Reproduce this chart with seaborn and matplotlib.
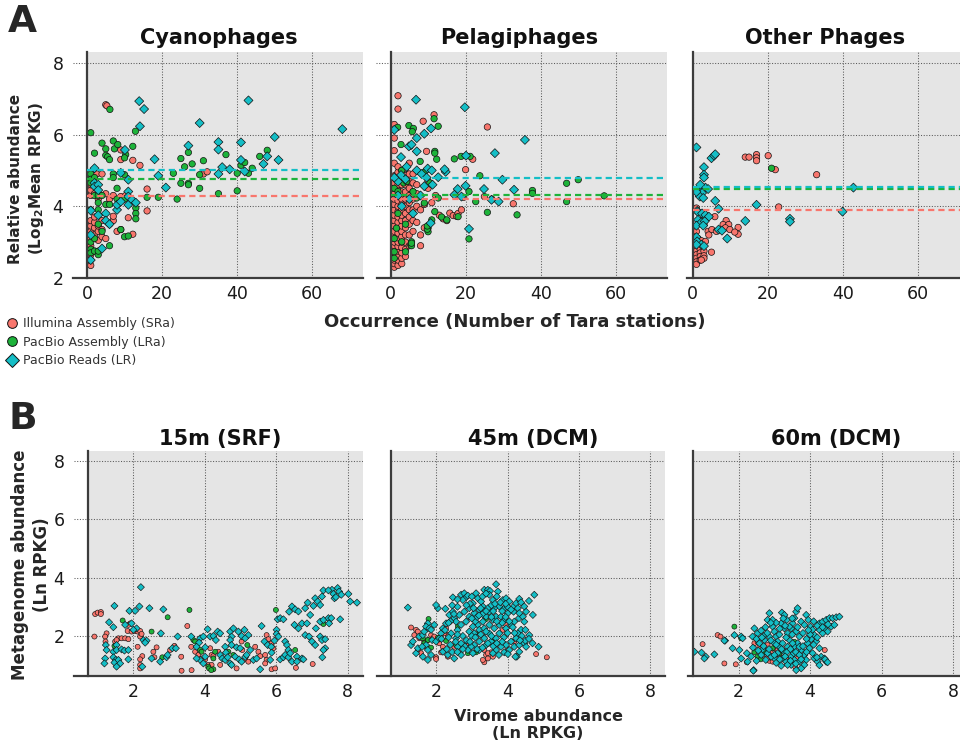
import matplotlib
matplotlib.use("Agg")
import matplotlib.pyplot as plt
from matplotlib.lines import Line2D
import pandas as pd
import seaborn as sns

sns.set_theme(style="white")
plt.rcParams["font.family"] = ["DejaVu Sans"]
plt.rcParams["mathtext.fontset"] = "dejavusans"

# ---------------------------------------------------------------- categories
SOURCES = ["SRa", "LRa", "LR"]
SOURCE_LABELS = ["Illumina Assembly (SRa)", "PacBio Assembly (LRa)", "PacBio Reads (LR)"]
PALETTE = {"SRa": "#F8766D", "LRa": "#1DB33A", "LR": "#14BEC6"}
MARKERS = {"SRa": "o", "LRa": "o", "LR": "D"}

occurrence_titles = ["Cyanophages", "Pelagiphages", "Other Phages"]
depth_titles = ["15m (SRF)", "45m (DCM)", "60m (DCM)"]

# ------------------------------------------- A: occurrence vs log2 mean RPKG
cyano_sra = [(1, 2.35), (1, 2.5), (1, 2.65), (1, 2.9), (1, 3.1), (1, 3.3), (1, 3.45), (1, 3.6),
             (1, 4.3), (1, 4.45), (1, 4.6), (2, 2.75), (2, 3.2), (2, 3.4), (2, 3.55), (2, 3.7),
             (2, 4.35), (2.6, 4.9), (3, 3.05), (3, 3.3), (3, 3.45), (3, 4.2), (3, 4.35), (4, 3.15),
             (4, 3.35), (4, 4.9), (4, 3.6), (5, 6.83), (5.3, 6.8), (5, 3.1), (5, 4.35), (6, 3.5),
             (6, 4.2), (7, 3.6), (7, 3.72), (7, 4.3), (8, 3.3), (9, 5.57), (9, 5.3), (9, 4.27),
             (9, 3.35), (10.3, 4.3), (11, 3.68), (12.2, 5.28), (12.2, 3.22), (14.1, 5.14),
             (16, 4.48), (16, 3.87), (31, 4.9), (32, 4.96)]
cyano_lra = [(1, 6.05), (1, 4.9), (1, 4.75), (1, 4.65), (1, 3.0), (1, 2.8), (1, 2.7), (1, 3.9),
             (2, 5.48), (2, 4.8), (2, 4.3), (2, 3.1), (2, 2.75), (3, 4.3), (3, 4.1), (3, 3.9),
             (3, 3.5), (3, 2.65), (3, 2.75), (4, 5.76), (4, 4.3), (4, 3.3), (5, 5.6), (5, 5.42),
             (5, 4.05), (5.5, 5.38), (6, 5.3), (6.1, 6.7), (6, 4.05), (6, 2.9), (7, 5.82), (7.3, 5.6),
             (7, 4.9), (7, 4.8), (8.2, 5.72), (8, 4.5), (8, 4.2), (9, 3.35), (10.3, 5.44),
             (10, 5.35), (10, 4.88), (10, 4.2), (10, 3.15), (11, 3.17), (12.2, 5.67), (12.9, 6.09),
             (13, 3.95), (13, 3.8), (13, 3.65), (16, 4.25), (19, 4.25), (23, 4.92), (24, 4.2),
             (25, 5.33), (25, 4.64), (26, 5.1), (27, 5.5), (27, 4.64), (27, 4.6), (28, 5.18),
             (30, 4.88), (30, 4.5), (31, 5.27), (35, 4.35), (37, 5.44), (40, 4.43), (40, 4.92),
             (41, 5.14), (42, 5.22), (43, 4.92), (44, 5.06), (46, 5.39), (48, 5.56)]
cyano_lr = [(1, 3.88), (1, 2.5), (1, 3.2), (2, 5.06), (2, 4.65), (2, 4.55), (3, 4.6), (3, 4.45),
            (3, 3.75), (4, 2.82), (5, 3.8), (5, 3.6), (6, 3.5), (8, 3.9), (8, 4.04), (9, 4.93),
            (9, 4.13), (10.1, 5.57), (11, 4.74), (11, 4.41), (11, 4.27), (11, 4.04), (12, 4.18),
            (13, 4.1), (13.9, 6.93), (14.1, 6.23), (15.2, 6.71), (18, 5.31), (19, 4.85), (21, 4.52),
            (27, 5.69), (30, 6.32), (35, 5.79), (35, 5.58), (35, 4.9), (36, 5.09), (38, 5.03),
            (41, 5.78), (41, 5.29), (42, 4.97), (43, 6.95), (47, 5.18), (48, 5.39), (50, 5.93),
            (51, 5.29), (68, 6.15)]
cyano_means = [4.29, 4.77, 5.02]

pelagi_sra = ([(1, v) for v in [2.3, 2.4, 2.5, 2.6, 2.7, 2.8, 2.9, 3.0, 3.1, 3.2, 3.3, 3.45, 3.6,
                                3.75, 3.9, 4.05, 4.2, 4.35, 4.5, 4.65, 4.85, 5.2, 5.55, 5.9,
                                6.15, 6.28]]
              + [(2, v) for v in [2.35, 2.5, 2.62, 2.75, 2.88, 3.0, 3.12, 3.25, 3.4, 3.55, 3.7,
                                  3.85, 4.0, 4.15, 4.3, 4.45, 4.6, 4.75, 4.95, 5.1, 6.71, 7.08]]
              + [(3, v) for v in [2.4, 2.55, 2.7, 2.85, 3.0, 3.15, 3.3, 3.45, 3.6, 3.75, 3.9,
                                  4.05, 4.2, 4.4, 4.6, 4.8, 5.0]]
              + [(4, v) for v in [2.6, 2.8, 3.0, 3.2, 3.4, 3.6, 3.8, 4.0, 4.2, 4.4, 4.6, 4.85,
                                  5.05]]
              + [(5, v) for v in [2.9, 3.2, 3.5, 3.7, 3.9, 4.1, 4.3, 4.5, 4.7, 4.9, 5.2]]
              + [(6, v) for v in [3.3, 3.6, 3.9, 4.2, 4.4, 4.65, 4.9]]
              + [(7, 3.55), (7, 4.0), (7, 4.35), (7, 4.6), (8, 2.9), (8, 3.9), (8, 3.2),
                 (9, 3.4), (9, 4.05), (9.6, 5.53), (8.7, 6.37), (10, 4.5), (10, 4.7), (11, 4.1),
                 (12, 4.3), (11.6, 6.55), (13, 3.75), (14, 3.65), (15, 3.6), (15.8, 3.81),
                 (16.7, 3.74), (17.6, 3.72), (18, 3.8), (18.9, 3.9), (19.5, 4.25), (20, 5.02),
                 (21.9, 5.31), (25, 4.27), (25.8, 6.21), (27, 4.2), (32.7, 4.07)])
pelagi_lra = [(1, 4.5), (2, 4.41), (3.5, 4.65), (4.3, 4.69), (6, 4.41), (7, 4.23), (9, 4.09),
              (11.8, 3.85), (11, 3.62), (10, 3.39), (10, 3.29), (5.6, 3.01), (5.4, 2.92), (3, 3.01),
              (1.6, 3.39), (1, 3.1), (4, 2.73), (1, 2.73), (1, 2.55), (11, 4.6), (10.5, 4.65),
              (12.7, 4.23), (13.6, 3.7), (15, 3.62), (4.9, 6.25), (6.1, 6.17), (5.8, 6.08),
              (1.9, 6.2), (12.7, 6.23), (11.6, 6.44), (2.8, 5.72), (5.2, 5.67), (11.8, 5.53),
              (11.8, 5.48), (7.9, 5.25), (12.3, 5.31), (17, 5.32), (18.8, 5.39), (21.2, 5.39),
              (9, 4.95), (23.8, 4.85), (46.9, 4.64), (50, 4.74), (20.9, 4.41), (37.8, 4.44),
              (37.8, 4.36), (22.7, 4.13), (46.9, 4.13), (56.9, 4.29), (25.8, 3.83), (33.7, 3.76),
              (20.9, 3.09), (18, 3.71), (9.8, 3.36), (9.8, 3.45), (5.6, 2.9), (5.6, 2.97),
              (3, 5.0), (2, 3.8), (4, 3.5)]
pelagi_lr = [(6.8, 6.97), (19.8, 6.76), (10.8, 6.17), (1, 6.13), (7, 5.9), (9, 6.02), (4.9, 5.67),
             (5.6, 5.72), (7, 5.53), (2.8, 5.37), (4.3, 5.1), (9.9, 5.05), (11, 5.0), (14.7, 4.96),
             (12.7, 4.81), (2, 4.69), (2.8, 4.87), (7, 5.0), (8.3, 4.9), (9.6, 4.8), (9, 4.56),
             (11.2, 4.6), (35.8, 5.85), (27.8, 5.48), (20.1, 5.41), (29.8, 4.74), (24.9, 4.48),
             (20, 4.57), (26.9, 4.18), (28.8, 4.13), (32.9, 4.46), (20.9, 3.37), (18.9, 4.27),
             (17.9, 4.48), (17, 4.32), (14.4, 5.03), (10.7, 3.53), (2, 4.3), (3, 4.0), (5, 4.2),
             (6, 3.8), (8, 4.3), (4, 4.75), (1, 4.8)]
pelagi_means = [4.21, 4.30, 4.78]

other_sra = [(14, 5.37), (15, 5.37), (17, 5.44), (17, 5.35), (17, 5.27), (20.1, 5.41), (22, 5.02),
             (22.9, 3.98), (33, 4.88), (5.9, 3.71), (8.9, 3.6), (8.1, 3.49), (9.6, 3.49),
             (8.7, 3.4), (9.9, 3.35), (12.1, 3.41), (12.1, 3.22), (11.2, 3.28), (4.1, 3.3),
             (5.1, 3.35), (6.3, 3.3), (4.3, 3.2), (1.4, 3.1), (2.3, 3.04), (3.4, 3.02), (1, 2.85),
             (1, 2.75), (1, 2.65), (1, 2.55), (1, 2.45), (1, 2.38), (2, 2.8), (2, 2.7), (2, 2.6),
             (2, 2.5), (3, 2.75), (3, 2.62), (3, 2.55), (5, 2.72), (2.3, 2.5), (1, 3.95), (2, 3.6),
             (1, 3.3)]
other_lra = [(21, 5.06), (3, 3.5)]
other_lr = [(1, 5.64), (5, 5.34), (5.7, 5.41), (6, 5.45), (3, 5.09), (3, 4.88), (3, 4.8), (2.1, 4.55),
            (3.4, 4.52), (4.1, 4.48), (2.5, 4.37), (1.9, 4.27), (2.8, 4.23), (6, 4.15), (6.9, 3.93),
            (17, 4.04), (25.9, 3.65), (25.9, 3.57), (14, 3.59), (1.2, 3.87), (1.4, 3.84),
            (2.5, 3.8), (3.4, 3.76), (4.3, 3.71), (1.4, 3.62), (2.3, 3.55), (3.2, 3.58), (1, 3.46),
            (2.8, 3.46), (6.9, 3.35), (7.8, 3.32), (9.2, 3.1), (1, 3.14), (1.2, 3.02), (2.3, 2.93),
            (3, 2.89), (1, 2.93), (42.8, 4.52), (39.9, 3.85), (2, 4.6), (1, 4.4)]
other_means = [3.89, 4.47, 4.55]

# --------------------------------- B: virome vs metagenome abundance (ln RPKG)
srf_sra = [(0.93, 2.75), (1.0, 2.8), (1.09, 2.82), (1.09, 2.75), (0.91, 1.98), (1.25, 2.09),
           (1.21, 1.98), (1.22, 1.81), (1.58, 1.92), (1.67, 1.92), (1.77, 1.92), (1.86, 1.89),
           (1.49, 1.81), (1.53, 1.86), (1.91, 2.43), (1.86, 2.38), (1.84, 2.17), (1.95, 2.15),
           (2.05, 2.17), (2.12, 2.15), (2.19, 2.17), (2.19, 1.98), (2.23, 2.07), (2.25, 1.31),
           (2.19, 1.2), (2.19, 1.01), (2.19, 0.89), (2.56, 1.46), (2.59, 1.27), (2.12, 1.63),
           (2.65, 1.61), (3.51, 2.34), (3.62, 1.63), (3.34, 1.29), (3.35, 0.81), (3.15, 1.66),
           (3.03, 1.52), (3.73, 1.46), (3.82, 1.35), (3.91, 1.23), (4.15, 1.58), (4.19, 1.35),
           (4.38, 1.46), (4.01, 1.2), (4.10, 1.01), (4.19, 1.01), (4.24, 1.31), (5.03, 1.81),
           (5.05, 1.52), (5.13, 1.20), (5.22, 1.12), (4.89, 0.89), (3.63, 0.83), (4.43, 1.01),
           (5.41, 1.63), (5.50, 1.46), (5.55, 1.31), (5.73, 2.03), (5.78, 1.89), (5.87, 1.75),
           (5.92, 1.58), (5.69, 1.35), (5.73, 1.18), (5.69, 1.06), (5.87, 0.86), (5.97, 0.89),
           (6.55, 0.91), (7.02, 1.04)]
srf_lra = [(1.70, 2.53), (1.47, 1.66), (2.51, 2.15), (2.96, 2.64), (3.57, 2.89), (2.81, 1.27),
           (3.68, 1.86), (3.73, 1.81), (3.87, 1.52), (3.91, 1.46), (4.24, 1.23), (4.29, 1.46),
           (4.10, 0.95), (4.12, 0.89), (4.24, 0.86), (4.18, 0.83), (4.66, 1.46), (4.80, 1.35),
           (5.19, 1.69), (5.99, 2.89), (6.53, 1.52), (7.32, 2.41)]
srf_lr = [(1.47, 3.03), (2.21, 3.67), (1.89, 2.86), (2.05, 2.86), (2.17, 3.01), (2.45, 2.95),
          (2.84, 2.91), (1.32, 2.47), (1.44, 2.30), (1.77, 2.38), (1.95, 2.43), (2.09, 2.26),
          (2.0, 2.21), (1.23, 1.69), (1.25, 1.52), (1.53, 1.69), (1.44, 1.46), (1.53, 1.52),
          (1.67, 1.54), (1.75, 1.50), (1.86, 1.52), (1.21, 1.23), (1.19, 1.06), (1.44, 1.27),
          (1.51, 1.18), (1.47, 1.09), (1.58, 1.18), (1.63, 1.06), (1.53, 0.95), (1.86, 1.20),
          (2.28, 1.86), (2.37, 1.84), (2.33, 1.77), (2.77, 2.09), (2.51, 1.23), (2.25, 0.95),
          (2.75, 1.12), (2.93, 1.27), (2.96, 1.35), (3.24, 1.98), (3.09, 1.58), (3.19, 1.58),
          (3.62, 1.98), (3.87, 1.92), (3.96, 1.98), (4.08, 2.23), (3.84, 1.77), (3.77, 1.63),
          (4.01, 1.61), (4.15, 1.98), (4.24, 2.0), (4.36, 2.15), (4.43, 2.09), (4.31, 1.86),
          (4.71, 2.15), (4.75, 1.98), (4.80, 2.26), (4.94, 2.15), (5.03, 2.0), (5.11, 2.21),
          (5.22, 2.03), (5.13, 1.92), (4.71, 1.86), (4.75, 1.69), (4.89, 1.61), (4.99, 1.58),
          (4.57, 1.63), (4.59, 1.43), (4.01, 1.29), (3.87, 1.18), (3.96, 1.06), (3.77, 1.23),
          (4.43, 1.35), (4.49, 1.23), (4.57, 1.18), (4.64, 1.27), (4.71, 1.06), (4.75, 1.01),
          (4.85, 1.29), (4.96, 1.20), (5.03, 1.12), (5.13, 1.28), (5.17, 1.35), (5.27, 1.52),
          (5.36, 1.18), (5.45, 1.23), (5.55, 0.86), (5.59, 2.34), (5.67, 1.81), (5.76, 1.69),
          (5.86, 1.63), (5.83, 1.18), (5.87, 1.43), (5.95, 1.84), (6.01, 2.21), (6.04, 2.57),
          (6.11, 2.61), (6.20, 2.57), (6.01, 2.07), (6.06, 1.98), (6.25, 1.81), (6.30, 1.69),
          (6.34, 1.52), (6.11, 1.20), (6.20, 1.27), (6.25, 1.35), (6.34, 1.27), (6.39, 1.41),
          (6.58, 1.29), (6.44, 1.12), (6.58, 1.12), (6.72, 1.23), (6.76, 1.20), (6.36, 2.83),
          (6.44, 3.01), (6.53, 2.91), (6.62, 2.84), (6.51, 2.38), (6.62, 2.26), (6.72, 2.43),
          (6.86, 2.43), (6.81, 2.95), (6.88, 3.14), (7.09, 3.29), (7.16, 3.18), (6.95, 2.72),
          (7.04, 3.03), (7.28, 3.35), (6.81, 2.03), (6.92, 1.98), (7.0, 1.81), (7.09, 1.69),
          (7.23, 1.98), (7.28, 1.86), (7.37, 1.58), (7.32, 1.52), (7.11, 2.26), (7.23, 2.49),
          (7.32, 2.55), (7.46, 2.61), (7.54, 2.61), (7.48, 2.43), (7.37, 1.89), (7.23, 3.06),
          (7.56, 3.58), (7.60, 3.44), (7.72, 3.64), (7.76, 3.52), (7.82, 3.41), (7.32, 3.56),
          (7.46, 3.56), (7.63, 3.29), (7.67, 3.33), (7.79, 2.57), (8.02, 3.44), (8.07, 3.18),
          (8.26, 3.14), (7.29, 1.27)]

dcm45_sra = [(1.30, 2.29), (1.44, 2.21), (1.49, 2.15), (1.39, 2.03), (1.53, 1.92), (1.67, 1.81),
             (1.72, 1.63), (1.49, 1.52), (1.58, 1.41), (1.86, 2.03), (1.91, 1.92), (1.95, 1.98),
             (1.77, 1.86), (2.09, 1.75), (2.19, 1.63), (2.33, 2.03), (2.28, 2.26), (2.23, 2.09),
             (2.14, 1.44), (2.0, 1.27), (2.0, 1.21), (2.33, 1.29), (2.51, 1.63), (2.65, 1.69),
             (2.84, 1.69), (2.93, 1.58), (3.07, 2.09), (3.31, 1.98), (3.35, 1.52), (3.40, 1.35),
             (3.35, 1.10), (3.45, 1.23), (3.54, 1.44), (3.59, 1.29), (3.77, 1.69), (3.87, 2.21),
             (3.96, 2.38), (4.01, 1.52), (4.19, 1.81), (4.80, 1.38), (5.10, 1.27), (3.31, 1.18),
             (3.45, 1.41)]
dcm45_lra = [(1.79, 2.58), (1.63, 1.92), (1.67, 1.75), (1.77, 1.86), (1.86, 1.60), (2.05, 1.94),
             (2.28, 1.83), (2.56, 1.69), (2.61, 2.32), (2.89, 1.41), (3.12, 1.44), (3.21, 2.09),
             (3.40, 2.58), (3.59, 1.81)]
dcm45_lr = [(1.21, 2.97), (1.30, 1.69), (1.44, 1.41), (1.49, 1.58), (1.35, 1.81), (1.53, 1.98),
            (1.63, 2.03), (1.67, 2.15), (1.77, 2.43), (1.72, 2.32), (1.81, 2.26), (1.86, 2.21),
            (1.95, 2.38), (1.89, 1.86), (1.72, 1.69), (1.61, 1.63), (1.77, 1.52), (1.86, 1.35),
            (1.63, 1.29), (1.77, 1.18), (2.0, 1.81), (2.09, 1.92), (2.14, 2.09), (2.19, 2.26),
            (2.28, 2.43), (2.05, 2.95), (2.0, 3.06), (2.26, 2.93), (2.47, 3.32), (2.37, 2.72),
            (2.47, 2.83), (2.51, 2.61), (2.42, 2.09), (2.56, 1.92), (2.61, 1.63), (2.70, 1.35),
            (2.51, 1.23), (2.33, 1.35), (2.19, 1.46), (2.70, 3.41), (2.79, 3.46), (2.84, 3.32),
            (2.75, 3.23), (2.89, 3.38), (3.12, 3.46), (3.17, 3.29), (3.03, 3.12), (2.93, 2.95),
            (2.79, 2.83), (2.65, 2.72), (2.56, 2.49), (2.70, 2.38), (2.84, 2.49), (2.93, 2.66),
            (3.07, 2.78), (3.21, 2.89), (3.31, 3.01), (3.26, 3.18), (3.35, 3.58), (3.45, 3.58),
            (3.51, 3.54), (3.49, 3.41), (3.59, 3.23), (3.68, 3.77), (3.73, 3.52), (3.70, 3.35),
            (3.87, 3.23), (3.96, 3.29), (4.05, 3.18), (4.17, 3.01), (4.24, 3.12), (4.33, 3.27),
            (4.38, 3.15), (4.29, 2.95), (4.17, 2.83), (4.01, 2.78), (3.91, 2.95), (3.77, 3.01),
            (3.63, 2.95), (3.49, 2.83), (3.40, 2.66), (3.31, 2.49), (3.17, 2.38), (3.03, 2.32),
            (2.93, 2.15), (3.07, 2.09), (3.21, 2.21), (3.35, 2.26), (3.49, 2.38), (3.59, 2.55),
            (3.68, 2.66), (3.82, 2.66), (3.91, 2.55), (3.77, 2.38), (3.63, 2.26), (3.49, 2.09),
            (3.35, 1.92), (3.21, 1.81), (3.07, 1.69), (2.98, 1.63), (2.89, 1.52), (3.03, 1.41),
            (3.21, 1.52), (3.40, 1.69), (3.54, 1.81), (3.68, 1.92), (3.77, 2.09), (3.96, 2.26),
            (4.10, 2.38), (4.19, 2.49), (4.32, 2.61), (4.43, 2.66), (4.52, 2.83), (4.33, 2.78),
            (4.47, 2.49), (4.38, 2.21), (4.29, 2.09), (4.24, 1.92), (4.10, 1.81), (3.96, 1.69),
            (3.82, 1.63), (3.68, 1.52), (3.59, 1.41), (3.76, 1.35), (3.91, 1.44), (4.05, 1.52),
            (4.19, 1.63), (4.33, 1.69), (4.47, 1.75), (4.52, 1.63), (4.33, 1.46), (4.26, 1.29),
            (4.50, 2.21), (4.61, 2.03), (4.71, 2.72), (4.75, 3.41), (4.60, 3.20), (4.47, 3.01),
            (4.87, 1.63), (4.50, 1.84), (4.22, 1.29), (4.01, 1.38),
            (2.40, 2.50), (2.60, 2.20), (2.75, 2.00), (2.85, 1.85), (3.00, 2.00), (3.10, 2.50),
            (3.15, 2.65), (3.30, 2.75), (3.45, 2.95), (3.55, 3.05), (3.65, 3.10), (3.80, 3.15),
            (3.85, 2.85), (3.95, 2.65), (4.05, 2.50), (4.15, 2.30), (4.00, 2.10), (3.90, 1.95),
            (3.85, 1.80), (3.55, 2.00), (3.40, 2.15), (3.25, 2.05), (3.10, 1.95), (2.95, 1.80),
            (2.80, 1.65), (2.70, 1.75), (2.55, 1.80), (2.40, 1.70), (2.30, 1.55), (2.45, 1.45),
            (2.60, 1.45), (2.75, 1.55), (3.15, 1.55), (3.30, 1.60), (3.45, 1.75), (3.60, 1.65),
            (3.70, 1.75), (3.85, 2.45), (3.70, 2.50), (3.55, 2.65), (3.40, 2.85), (3.25, 2.95),
            (3.05, 2.95), (2.95, 3.10), (2.85, 3.05), (2.60, 3.00), (2.50, 2.75), (2.35, 2.45),
            (2.25, 2.20), (2.15, 1.90), (2.35, 1.95), (2.60, 2.05), (3.00, 2.60), (3.20, 2.70),
            (3.60, 2.85), (4.00, 3.00), (4.10, 2.90), (3.95, 3.10), (3.30, 3.35), (3.40, 3.45),
            (3.00, 3.35), (2.60, 3.25), (2.45, 3.05), (4.20, 2.10), (4.40, 2.00), (4.35, 1.85),
            (4.60, 1.90), (4.70, 1.75)]

dcm60_sra = [(0.99, 1.72), (1.41, 2.03), (1.49, 1.98), (1.60, 1.06), (1.92, 1.03), (2.23, 1.10),
             (2.44, 1.75), (2.58, 1.63), (2.72, 1.52), (2.81, 1.69), (2.91, 1.41), (3.0, 1.58),
             (3.09, 1.52), (2.67, 1.35), (2.86, 1.15), (2.95, 1.12), (3.14, 1.35), (3.33, 1.20),
             (3.51, 1.06), (3.65, 1.23), (3.58, 0.95), (4.41, 1.52), (2.53, 1.80), (2.81, 1.25)]
dcm60_lra = [(1.88, 2.32), (2.07, 1.92), (2.44, 1.45), (2.53, 1.30), (2.72, 1.45), (2.95, 1.58),
             (3.14, 1.40), (3.56, 1.80), (2.62, 1.20)]
dcm60_lr = [(0.76, 1.46), (0.96, 1.43), (1.08, 1.29), (1.04, 1.23), (1.32, 1.37), (1.62, 1.84),
            (1.83, 1.58), (1.88, 2.03), (2.02, 1.52), (2.07, 1.98), (2.11, 1.92), (2.07, 1.23),
            (2.23, 1.41), (2.25, 1.12), (2.42, 0.83), (2.39, 1.98), (2.44, 2.26), (2.53, 2.09),
            (2.63, 2.18), (2.58, 1.75), (2.67, 1.54), (2.72, 1.86), (2.86, 2.78), (2.81, 2.55),
            (2.95, 2.32), (3.0, 2.15), (3.05, 1.98), (3.09, 1.81), (3.14, 1.63), (3.09, 1.41),
            (3.0, 1.23), (2.91, 1.29), (2.81, 1.41), (3.21, 2.80), (3.28, 2.72), (3.19, 2.43),
            (3.28, 2.26), (3.37, 2.09), (3.42, 1.86), (3.37, 1.63), (3.28, 1.46), (3.23, 1.23),
            (3.33, 1.12), (3.47, 1.29), (3.54, 1.41), (3.61, 2.83), (3.65, 2.95), (3.56, 2.61),
            (3.51, 2.43), (3.47, 2.26), (3.61, 2.15), (3.70, 1.98), (3.65, 1.75), (3.56, 1.63),
            (3.75, 1.52), (3.84, 1.35), (3.89, 1.18), (3.84, 1.01), (3.75, 0.89), (3.61, 0.83),
            (3.47, 1.01), (3.37, 1.01), (3.75, 2.49), (3.84, 2.38), (3.89, 2.72), (3.95, 2.55),
            (4.01, 2.32), (4.07, 2.21), (4.12, 2.03), (4.03, 1.89), (3.93, 1.75), (3.98, 1.58),
            (4.07, 1.41), (4.12, 1.23), (4.26, 2.43), (4.35, 2.49), (4.45, 2.55), (4.54, 2.61),
            (4.63, 2.61), (4.73, 2.64), (4.82, 2.66), (4.26, 2.21), (4.40, 2.26), (4.49, 2.15),
            (4.59, 2.32), (4.68, 2.38), (4.35, 2.09), (4.17, 1.81), (4.26, 1.58), (4.21, 1.12),
            (4.31, 1.29), (4.40, 1.23), (4.45, 1.12), (4.19, 1.27), (4.42, 1.20), (4.26, 1.0),
            (4.49, 1.10), (2.41, 0.81), (1.60, 1.84), (2.70, 2.0), (2.95, 2.55), (3.14, 2.05),
            (3.33, 1.95), (3.51, 1.75), (3.70, 1.63), (3.0, 1.75), (2.86, 1.98), (3.23, 1.75),
            (3.42, 2.32), (2.63, 1.35), (2.76, 1.18), (3.05, 1.08), (3.19, 0.98), (3.56, 1.18),
            (3.70, 1.12),
            (2.50, 1.90), (2.65, 1.95), (2.80, 2.10), (2.90, 1.85), (3.05, 1.70), (3.20, 1.55),
            (3.35, 1.45), (3.45, 1.55), (3.60, 1.45), (3.70, 1.35), (3.80, 1.65), (3.90, 1.90),
            (4.00, 2.05), (4.10, 2.50), (4.20, 2.35), (3.95, 2.20), (3.80, 2.10), (3.65, 2.30),
            (3.50, 2.05), (3.30, 2.35), (3.15, 2.25), (3.05, 2.45), (2.90, 2.45), (2.75, 2.30),
            (2.55, 1.50), (2.70, 1.65), (2.85, 1.55), (3.00, 1.35), (3.15, 1.20), (3.30, 1.30),
            (3.45, 1.15), (3.60, 1.05), (3.75, 1.20), (2.40, 1.60), (2.35, 1.30), (2.50, 1.15),
            (3.90, 1.45), (4.10, 1.70), (4.20, 1.95), (4.35, 2.30), (4.50, 2.40), (3.35, 2.55),
            (3.50, 2.60), (3.25, 2.60)]

occurrence_data = [(cyano_sra, cyano_lra, cyano_lr), (pelagi_sra, pelagi_lra, pelagi_lr),
                   (other_sra, other_lra, other_lr)]
occurrence_means = [cyano_means, pelagi_means, other_means]
depth_data = [(srf_sra, srf_lra, srf_lr), (dcm45_sra, dcm45_lra, dcm45_lr),
              (dcm60_sra, dcm60_lra, dcm60_lr)]


def to_frame(groups):
    rows = []
    for src, pts in zip(SOURCES, groups):
        for x, y in pts:
            rows.append({"x": x, "y": y, "source": src})
    return pd.DataFrame(rows)


BG = "#E5E5E5"
GRID = "#5A5A5A"
SPINE = "#3C3C3C"
DOT = (0, (1, 1.6))


def style_axes(ax, xlim, ylim, xticks, yticks, show_y, tick_ext, spine_ext):
    ax.set_facecolor(BG)
    ax.set_xlim(*xlim)
    ax.set_ylim(*ylim)
    ax.set_xticks(xticks)
    ax.set_yticks(yticks)
    ax.grid(True, color=GRID, linestyle=DOT, linewidth=0.75)
    ax.set_axisbelow(True)
    for side in ("top", "right"):
        ax.spines[side].set_visible(False)
    for side in ("left", "bottom"):
        ax.spines[side].set_color(SPINE)
        ax.spines[side].set_linewidth(1.6)
    # bottom spine runs a little past the y axis
    span = xlim[1] - xlim[0]
    ax.spines["bottom"].set_bounds(xlim[0] - spine_ext * span, xlim[1])
    ax.tick_params(axis="x", length=0, pad=5, labelsize=12.5, labelcolor="#1a1a1a")
    ax.tick_params(axis="y", length=0, pad=17, labelsize=12.5, labelcolor="#1a1a1a",
                   labelleft=show_y)
    if tick_ext > 0:
        for v in yticks:
            ax.plot([-tick_ext, 0], [v, v], transform=ax.get_yaxis_transform(),
                    clip_on=False, color=GRID, linestyle=DOT, linewidth=0.75)
    ax.set_xlabel("")
    ax.set_ylabel("")


W, H = 960, 743
fig = plt.figure(figsize=(W / 100, H / 100), dpi=100)
fig.patch.set_facecolor("white")

top_lefts = [87, 390.5, 692.7]
title_x_top = [0.476, 0.467, 0.479]
for i, left in enumerate(top_lefts):
    ax = fig.add_axes([left / W, (H - 278) / H, 276 / W, 226 / H])
    df = to_frame(occurrence_data[i])
    sns.scatterplot(data=df, x="x", y="y", hue="source", style="source",
                    hue_order=SOURCES, style_order=SOURCES, palette=PALETTE,
                    markers=MARKERS, s=21, edgecolor="#111111", linewidth=0.5,
                    legend=False, ax=ax, zorder=2)
    for src, m in zip(SOURCES, occurrence_means[i]):
        ax.axhline(m, color=PALETTE[src], linestyle=(0, (2.8, 1.8)), linewidth=1.6, zorder=3)
    style_axes(ax, (0, 73.5), (2, 8.3), [0, 20, 40, 60], [2, 4, 6, 8],
               show_y=(i == 0), tick_ext=0.052 if i < 2 else 0,
               spine_ext=0.05 if i < 2 else 0.02)
    ax.set_title(occurrence_titles[i], fontsize=15, fontweight="bold", x=title_x_top[i],
                 pad=6, color="#111111")

bottom_lefts = [88, 390.7, 693.3]
title_x_bottom = [0.48, 0.52, 0.52]
for i, left in enumerate(bottom_lefts):
    ax = fig.add_axes([left / W, (H - 676) / H, 274.7 / W, 225.3 / H])
    df = to_frame(depth_data[i])
    sns.scatterplot(data=df, x="x", y="y", hue="source", style="source",
                    hue_order=SOURCES, style_order=SOURCES, palette=PALETTE,
                    markers=MARKERS, s=13, edgecolor="#111111", linewidth=0.45,
                    legend=False, ax=ax, zorder=2)
    style_axes(ax, (0.73, 8.42), (0.63, 8.34), [2, 4, 6, 8], [2, 4, 6, 8],
               show_y=(i == 0), tick_ext=0.052 if i == 0 else 0,
               spine_ext=0.05 if i < 2 else 0.02)
    ax.set_title(depth_titles[i], fontsize=15, fontweight="bold", x=title_x_bottom[i],
                 pad=4, color="#111111")

# panel letters
fig.text(8 / W, 1 - 4 / H, "A", fontsize=27, fontweight="bold", va="top", ha="left")
fig.text(8 / W, 1 - 401 / H, "B", fontsize=27, fontweight="bold", va="top", ha="left")

# shared axis titles
fig.text(27 / W, 1 - 179 / H, "Relative abundance\n(Log$_\\mathbf{2}$Mean RPKG)",
         rotation=90, fontsize=11, fontweight="bold", ha="center", va="center",
         multialignment="center", linespacing=1.35)
fig.text(515 / W, 1 - 322 / H, "Occurrence (Number of Tara stations)", fontsize=13,
         fontweight="bold", ha="center", va="center")
fig.text(31 / W, 1 - 565 / H, "Metagenome abundance\n(Ln RPKG)", rotation=90, fontsize=12,
         fontweight="bold", ha="center", va="center", multialignment="center",
         linespacing=1.35)
fig.text(538 / W, 1 - 725 / H, "Virome abundance\n(Ln RPKG)", fontsize=11.5,
         fontweight="bold", ha="center", va="center", multialignment="center",
         linespacing=1.1)

# legend for the three sequence sources
handles = [Line2D([], [], linestyle="none", marker=MARKERS[s], markersize=7,
                  markerfacecolor=PALETTE[s], markeredgecolor="#111111", markeredgewidth=0.7)
           for s in SOURCES]
fig.legend(handles, SOURCE_LABELS, loc="upper left", bbox_to_anchor=(4 / W, 1 - 317 / H),
           frameon=False, fontsize=9, handletextpad=0.3, labelspacing=0.45,
           borderaxespad=0, borderpad=0, handlelength=1.2, labelcolor="#333333")

fig.savefig("out.png", dpi=100, facecolor="white")
